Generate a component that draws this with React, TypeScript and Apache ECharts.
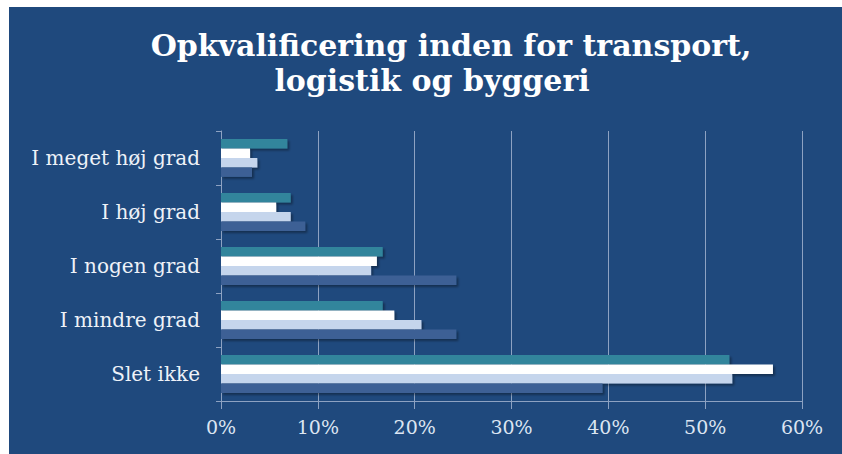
import React, { useEffect, useRef } from "react";
import * as echarts from "echarts";

const categories = ["I meget høj grad", "I høj grad", "I nogen grad", "I mindre grad", "Slet ikke"];
const seriesA = [6.85, 7.2, 16.7, 16.7, 52.5];
const seriesB = [3.0, 5.7, 16.1, 17.9, 57.0];
const seriesC = [3.75, 7.2, 15.5, 20.7, 52.8];
const seriesD = [3.2, 8.7, 24.3, 24.3, 39.4];
const xTicks = [0, 10, 20, 30, 40, 50, 60];
const titleLine1 = "Opkvalificering inden for transport,";
const titleLine2 = "logistik og byggeri";

const BG = "#1f497d";
const GRID = "#8da2c2";
const COLORS = ["#31859c", "#ffffff", "#c5d5ec", "#3c6195"];

export default function App() {
  const ref = useRef<HTMLDivElement>(null);
  useEffect(() => {
    document.body.style.margin = "0";
    const chart = echarts.init(ref.current!, null, { renderer: "svg" });
    const mk = (name: string, data: number[], i: number) => ({
      name,
      type: "bar",
      data,
      barGap: "0%",
      barCategoryGap: "30%",
      itemStyle: {
        color: COLORS[i],
        shadowColor: "rgba(0,0,0,0.35)",
        shadowOffsetX: 2,
        shadowOffsetY: 2,
        shadowBlur: 2,
      },
    });
    chart.setOption({
      animation: false,
      backgroundColor: "#ffffff",
      graphic: [
        { type: "rect", z: -10, shape: { x: 9, y: 7, width: 833, height: 447 }, style: { fill: BG } },
        {
          type: "text",
          x: 451,
          y: 45,
          style: {
            text: titleLine1,
            fill: "#ffffff",
            font: "bold 30px 'DejaVu Serif'",
            textAlign: "center",
            textVerticalAlign: "middle",
          },
        },
        {
          type: "text",
          x: 432,
          y: 80,
          style: {
            text: titleLine2,
            fill: "#ffffff",
            font: "bold 30px 'DejaVu Serif'",
            textAlign: "center",
            textVerticalAlign: "middle",
          },
        },
      ],
      grid: { left: 221, right: 40, top: 131, bottom: 53, containLabel: false },
      xAxis: {
        type: "value",
        min: xTicks[0],
        max: xTicks[xTicks.length - 1],
        interval: 10,
        axisLine: { show: true, lineStyle: { color: GRID, width: 1 } },
        axisTick: { show: true, length: 8, lineStyle: { color: GRID } },
        splitLine: { show: true, lineStyle: { color: GRID, width: 1 } },
        axisLabel: {
          formatter: "{value}%",
          color: "#dce5f2",
          fontSize: 19,
          fontFamily: "'DejaVu Serif'",
          margin: 16,
        },
      },
      yAxis: {
        type: "category",
        inverse: true,
        data: categories,
        axisLine: { show: true, lineStyle: { color: GRID, width: 1 } },
        axisTick: { show: true, length: 5, lineStyle: { color: GRID } },
        axisLabel: {
          color: "#eef2f8",
          fontSize: 20,
          fontFamily: "'DejaVu Serif'",
          margin: 21,
        },
      },
      series: [
        mk("A", seriesA, 0),
        mk("B", seriesB, 1),
        mk("C", seriesC, 2),
        mk("D", seriesD, 3),
      ],
    });
    return () => chart.dispose();
  }, []);
  return <div ref={ref} style={{ width: 842, height: 454 }} />;
}
